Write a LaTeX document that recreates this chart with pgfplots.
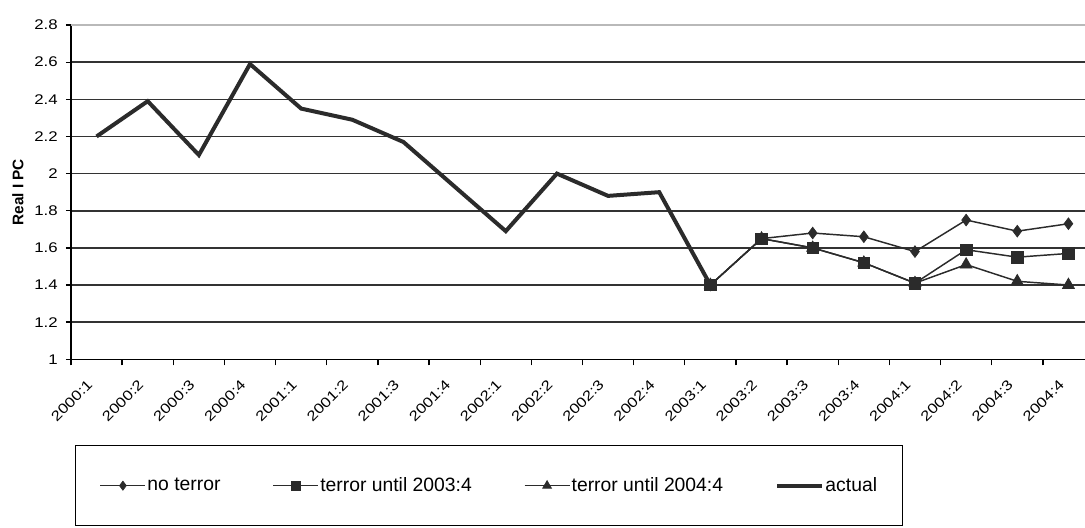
\documentclass[border=0pt]{standalone}
\usepackage{pgfplots}
\pgfplotsset{compat=1.18}
\usepackage{fontspec}
\setmainfont{Liberation Sans}
\newfontfamily\tickfont[FakeStretch=1.2]{Liberation Sans}
\definecolor{ln}{HTML}{2B2B2B}
\definecolor{gr}{HTML}{333333}
\begin{document}
\begin{tikzpicture}
\path[use as bounding box] (-53.25pt,-125.78pt) rectangle (760.5pt,269.48pt);
\clip (-53.25pt,-125.78pt) rectangle (760.5pt,269.48pt);
\begin{axis}[
  at={(0pt,0pt)}, anchor=south west,
  scale only axis, width=760.5pt, height=250.7pt,
  xmin=-0.5, xmax=19.324, ymin=1, ymax=2.8,
  axis x line*=bottom, axis y line*=left,
  axis line style={black, line width=1.1pt},
  xtick={0,...,19},
  xticklabels={2000:1,2000:2,2000:3,2000:4,2001:1,2001:2,2001:3,2001:4,2002:1,2002:2,2002:3,2002:4,2003:1,2003:2,2003:3,2003:4,2004:1,2004:2,2004:3,2004:4},
  major x tick style={draw=none},
  minor xtick={-0.5,0.5,...,18.5},
  minor x tick style={draw=black, line width=1pt},
  minor tick length=4.5pt,
  ytick={1,1.2,1.4,1.6,1.8,2,2.2,2.4,2.6},
  extra y ticks={2.8},
  extra y tick style={major grid style={color=gray!55, line width=1.2pt}},
  major y tick style={draw=black, line width=1pt},
  major tick length=3.75pt,
  tick align=outside,
  ymajorgrids,
  major grid style={color=gr, line width=1.2pt},
  /pgf/number format/assume math mode=true,
  tick label style={font=\tickfont\fontsize{10.5}{12}\selectfont},
  yticklabel style={inner sep=0pt, xshift=-6pt},
  xticklabel style={xshift=-5pt, yshift=-13.5pt, rotate=45, anchor=east, inner sep=0pt},
  ylabel={Real I PC},
  ylabel style={at={(axis description cs:-0.0523,0.5)}, anchor=center, font=\bfseries\fontsize{11.5}{13}\selectfont},
  legend columns=4,
  legend image code/.code={\draw[mark repeat=2,mark phase=2,#1] plot coordinates {(0pt,0pt) (16.9pt,0pt) (33.75pt,0pt)};},
  legend style={at={(axis description cs:0.0039,-0.2564)}, anchor=north west,
    draw=black, line width=1pt, fill=white,
    font=\fontsize{14.5}{16}\selectfont,
    inner xsep=18pt, inner ysep=22pt,
    nodes={inner xsep=1pt},
    /tikz/every even column/.append style={column sep=38pt}},
  legend cell align=left,
]
% legend entries in original order
\addlegendimage{ln, line width=1.1pt, mark=diamond*, mark size=3.4pt, mark options={solid, fill=ln, line width=0.5pt}}
\addlegendentry{no terror}
\addlegendimage{ln, line width=1.1pt, mark=square*, mark size=3.2pt, mark options={solid, fill=ln, line width=0.5pt}}
\addlegendentry{terror until 2003:4}
\addlegendimage{ln, line width=1.1pt, mark=triangle*, mark size=3.8pt, mark options={solid, fill=ln, line width=0.5pt}}
\addlegendentry{terror until 2004:4}
\addlegendimage{ln, line width=3pt, no marks}
\addlegendentry{actual}
% terror until 2004:4
\addplot[ln, line width=1.1pt, mark=triangle*, mark size=5.2pt, mark options={fill=ln, line width=0.5pt}, forget plot] coordinates {
(12,1.40) (13,1.65) (14,1.60) (15,1.52) (16,1.41) (17,1.51) (18,1.42) (19,1.40)};
% no terror
\addplot[ln, line width=1.1pt, mark=diamond*, mark size=4.4pt, mark options={fill=ln, line width=0.5pt}, forget plot] coordinates {
(12,1.40) (13,1.65) (14,1.68) (15,1.66) (16,1.58) (17,1.75) (18,1.69) (19,1.73)};
% terror until 2003:4
\addplot[ln, line width=1.1pt, mark=square*, mark size=4.3pt, mark options={fill=ln, line width=0.5pt}, forget plot] coordinates {
(12,1.40) (13,1.65) (14,1.60) (15,1.52) (16,1.41) (17,1.59) (18,1.55) (19,1.57)};
% actual
\addplot[ln, line width=3pt, no marks, line join=miter, forget plot] coordinates {
(0,2.20) (1,2.39) (2,2.10) (3,2.59) (4,2.35) (5,2.29) (6,2.17) (7,1.93) (8,1.69) (9,2.00) (10,1.88) (11,1.90) (12,1.40)};
\end{axis}
\end{tikzpicture}
\end{document}
